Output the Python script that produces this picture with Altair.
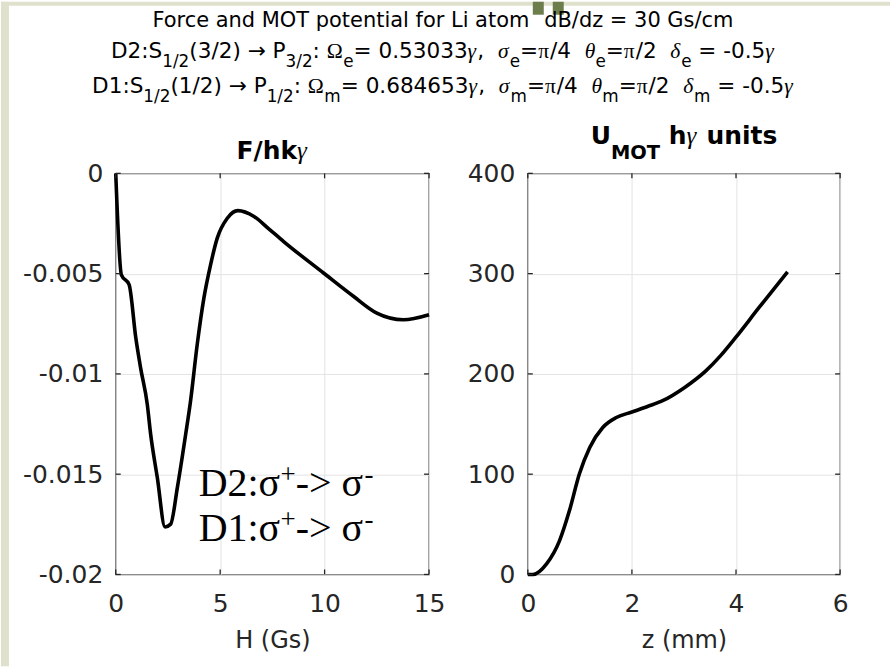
import altair as alt
import pandas as pd

# Force on a Li atom versus magnetic field H (Gs)
field_gs = [0, 0.27, 0.64, 0.96, 1.19, 1.51, 1.67, 1.99, 2.36, 2.63, 2.95, 3.35, 3.58,
            3.90, 4.22, 4.54, 4.86, 5.34, 5.85, 6.62, 7.30, 8.04, 9.95, 11.38, 12.5,
            13.77, 15]
force = [0, -0.00506, -0.00555, -0.0082, -0.0097, -0.01152, -0.0130, -0.01517,
         -0.01763, -0.01749, -0.01567, -0.0130, -0.01136, -0.00854, -0.00622,
         -0.00456, -0.00323, -0.00224, -0.00186, -0.00215, -0.00274, -0.0034,
         -0.00497, -0.00613, -0.00697, -0.0073, -0.00705]

# MOT potential versus position z (mm)
z_mm = [0, 0.1, 0.36, 0.61, 0.80, 0.99, 1.19, 1.44, 1.70, 2.0, 2.3, 2.6, 3.0, 3.42,
        3.7, 3.99, 4.44, 4.99]
u_mot = [0, 0, 10.6, 33.8, 63.7, 100.2, 126.7, 146.6, 156.5, 162.0, 167.5, 173.5,
         186.0, 203.0, 218.0, 236.1, 266.0, 301.8]

left_xticks = [0, 5, 10, 15]
left_yticks = [0, -0.005, -0.01, -0.015, -0.02]
right_xticks = [0, 2, 4, 6]
right_yticks = [0, 100, 200, 300, 400]

# polarisation labels: line prefix, anchor position in (H, F)
pol_prefix = ["D2:σ", "D1:σ"]
pol_h = [3.97, 3.97]
pol_f = [-0.01609, -0.01832]

SANS = "DejaVu Sans"
SERIF = "Liberation Serif, DejaVu Serif"
INK = "#262626"
GRID = "#e3e3e3"
SLIDE = "#e0e1cd"
SLIDE_DARK = "#6e7d4c"

W_L, W_R, H_P = 314, 313, 402
GAP = 99
LEFT_OFF = 115          # distance from page edge to the left plot frame
PAGE_W, PAGE_H = 891, 666
HEAD_W, HEAD_H = W_L + GAP + W_R, 165

# approximate advance widths (em) used to lay out mixed-font text runs
SANS_W = {' ': 0.318, '(': 0.390, ')': 0.390, ',': 0.318, '-': 0.361, '.': 0.318,
          '/': 0.337, ':': 0.337, '=': 0.838, '→': 0.838, 'B': 0.686, 'D': 0.770,
          'F': 0.575, 'G': 0.775, 'L': 0.557, 'M': 0.863, 'O': 0.787, 'P': 0.603,
          'S': 0.635, 'T': 0.611, 'a': 0.613, 'c': 0.550, 'd': 0.635, 'e': 0.615,
          'f': 0.352, 'h': 0.634, 'i': 0.278, 'l': 0.278, 'm': 0.974, 'n': 0.634,
          'o': 0.612, 'p': 0.635, 'r': 0.411, 's': 0.521, 't': 0.392, 'z': 0.525}
SANS_W.update({d: 0.636 for d in "0123456789"})
BOLD_W = {' ': 0.348, '/': 0.365, 'F': 0.683, 'h': 0.712, 'k': 0.665, 'U': 0.812,
          'M': 0.995, 'O': 0.850, 'T': 0.682, 'n': 0.712, 'i': 0.343, 't': 0.478,
          's': 0.595, 'u': 0.712}
SERIF_W = {'Ω': 0.768, 'π': 0.55, 'γ': 0.45, 'σ': 0.55, 'θ': 0.5, 'δ': 0.5,
           'D': 0.722, '1': 0.5, '2': 0.5, ':': 0.278, '+': 0.564, '-': 0.333,
           '>': 0.564, ' ': 0.25}
TABLES = {"sans": SANS_W, "bold": BOLD_W, "serif": SERIF_W, "serifi": SERIF_W}


def run_width(text, fkey, size):
    table = TABLES[fkey]
    return sum(table.get(c, 0.6) for c in text) * size


def lay_line(parts, base, center, size, sub_scale, sub_drop):
    pieces = []
    for part in parts:
        text, fkey = part[0], part[1]
        is_sub = len(part) > 2
        s = size * sub_scale if is_sub else size
        pieces.append((text, fkey, s, base + (sub_drop if is_sub else 0),
                       run_width(text, fkey, s)))
    x = center - sum(p[4] for p in pieces) / 2
    rows = []
    for text, fkey, s, y, w in pieces:
        body = text.lstrip(" ")
        lead = run_width(text[:len(text) - len(body)], fkey, s)
        if body.strip():
            rows.append({"t": body.rstrip(" "), "f": fkey, "s": s, "x": x + lead, "y": y})
        x += w
    return rows


SUB = True
line1 = [("Force and MOT potential for Li atom  ", "sans"), ("dB/dz = 30 Gs/cm", "sans")]
line2 = [("D2:S", "sans"), ("1/2", "sans", SUB), ("(3/2) ", "sans"), ("→", "sans"),
         (" P", "sans"), ("3/2", "sans", SUB), (": ", "sans"), ("Ω", "serif"),
         ("e", "sans", SUB), ("= 0.53033", "sans"), ("γ", "serifi"), (",  ", "sans"),
         ("σ", "serifi"), ("e", "sans", SUB), ("=", "sans"), ("π", "serif"),
         ("/4  ", "sans"), ("θ", "serifi"), ("e", "sans", SUB), ("=", "sans"),
         ("π", "serif"), ("/2  ", "sans"), ("δ", "serifi"), ("e", "sans", SUB),
         (" = -0.5", "sans"), ("γ", "serifi")]
line3 = [("D1:S", "sans"), ("1/2", "sans", SUB), ("(1/2) ", "sans"), ("→", "sans"),
         (" P", "sans"), ("1/2", "sans", SUB), (": ", "sans"), ("Ω", "serif"),
         ("m", "sans", SUB), ("= 0.684653", "sans"), ("γ", "serifi"), (",  ", "sans"),
         ("σ", "serifi"), ("m", "sans", SUB), ("=", "sans"), ("π", "serif"),
         ("/4  ", "sans"), ("θ", "serifi"), ("m", "sans", SUB), ("=", "sans"),
         ("π", "serif"), ("/2  ", "sans"), ("δ", "serifi"), ("m", "sans", SUB),
         (" = -0.5", "sans"), ("γ", "serifi")]
title_f = [("F/hk", "bold"), ("γ", "serifi")]
title_u = [("U", "bold"), ("MOT", "bold", SUB), (" h", "bold"), ("γ", "serifi"),
           (" units", "bold")]

HEAD_CX = 328
rows = []
rows += lay_line(line1, 25, HEAD_CX, 21, 0.8, 9)
rows += lay_line(line2, 56, HEAD_CX, 21.6, 0.78, 9)
rows += lay_line(line3, 91, HEAD_CX, 21.6, 0.78, 9)
rows += lay_line(title_f, 158, W_L / 2, 25, 0.78, 15)
rows += lay_line(title_u, 143, W_L + GAP + W_R / 2, 25, 0.78, 15)
head_df = pd.DataFrame(rows)

head_base = alt.Chart(head_df).encode(
    x=alt.X("x:Q", scale=None),
    y=alt.Y("y:Q", scale=None),
    text="t:N",
    size=alt.Size("s:Q", scale=None, legend=None),
)
head_layers = []
for fkey, font, extra in [("sans", SANS, {}), ("bold", SANS, {"fontWeight": "bold"}),
                          ("serif", SERIF, {}), ("serifi", SERIF, {"fontStyle": "italic"})]:
    head_layers.append(
        head_base.transform_filter(alt.datum.f == fkey).mark_text(
            align="left", baseline="alphabetic", font=font, color="black", **extra))

# slide backdrop: pale strips along the left and top edges, two dark tabs at the top
strip_src = alt.Chart(pd.DataFrame({"k": [0]}))
backdrop = [
    strip_src.mark_rect(color=SLIDE).encode(
        x=alt.value(-LEFT_OFF), x2=alt.value(-LEFT_OFF + 8),
        y=alt.value(0), y2=alt.value(PAGE_H)),
    strip_src.mark_rect(color=SLIDE).encode(
        x=alt.value(-LEFT_OFF), x2=alt.value(PAGE_W - LEFT_OFF),
        y=alt.value(0), y2=alt.value(4)),
    strip_src.mark_rect(color=SLIDE_DARK).encode(
        x=alt.value(533 - LEFT_OFF), x2=alt.value(544 - LEFT_OFF),
        y=alt.value(0), y2=alt.value(13)),
    strip_src.mark_rect(color=SLIDE_DARK).encode(
        x=alt.value(553 - LEFT_OFF), x2=alt.value(564 - LEFT_OFF),
        y=alt.value(0), y2=alt.value(13)),
]
header = alt.layer(*backdrop, *head_layers).properties(
    width=HEAD_W, height=HEAD_H, view=alt.ViewBackground(stroke="transparent"))


def inner_ticks(xfield, yfield, xs, ys, xt, yt, w, h):
    xdf = pd.DataFrame({xfield: xt})
    ydf = pd.DataFrame({yfield: yt})
    enc_x = alt.X(f"{xfield}:Q", scale=xs)
    enc_y = alt.Y(f"{yfield}:Q", scale=ys)
    rule = dict(color=INK, strokeWidth=1.3)
    return [
        alt.Chart(xdf).mark_rule(**rule).encode(x=enc_x, y=alt.value(h), y2=alt.value(h - 5)),
        alt.Chart(xdf).mark_rule(**rule).encode(x=enc_x, y=alt.value(0), y2=alt.value(5)),
        alt.Chart(ydf).mark_rule(**rule).encode(y=enc_y, x=alt.value(0), x2=alt.value(5)),
        alt.Chart(ydf).mark_rule(**rule).encode(y=enc_y, x=alt.value(w), x2=alt.value(w - 5)),
    ]


# left panel: force
xs_l = alt.Scale(domain=[0, 15], nice=False, zero=False)
ys_l = alt.Scale(domain=[-0.02, 0], nice=False)
force_line = alt.Chart(pd.DataFrame({"H": field_gs, "F": force})).mark_line(
    color="black", strokeWidth=3.6, interpolate="monotone").encode(
    x=alt.X("H:Q", scale=xs_l, axis=alt.Axis(values=left_xticks, title="H (Gs)")),
    y=alt.Y("F:Q", scale=ys_l, axis=alt.Axis(values=left_yticks, title=None)),
)

# "D2:σ⁺-> σ⁻" built from runs so the superscripts sit like the printed label
POL_SIZE, SUP_SIZE, SUP_RISE = 40, 27, -13
run1_w = run_width("D2:σ", "serif", POL_SIZE)
run2_w = run_width("+", "serif", SUP_SIZE)
run3_w = run_width("-> σ", "serif", POL_SIZE)
pol_df = pd.DataFrame({"H": pol_h, "F": pol_f, "pre": pol_prefix})
pol_enc = dict(x=alt.X("H:Q", scale=xs_l), y=alt.Y("F:Q", scale=ys_l))
pol_mark = dict(font=SERIF, align="left", baseline="alphabetic", color="black")
pol_layers = [
    alt.Chart(pol_df).mark_text(fontSize=POL_SIZE, **pol_mark).encode(text="pre:N", **pol_enc),
    alt.Chart(pol_df).mark_text(fontSize=SUP_SIZE, dx=run1_w, dy=SUP_RISE, **pol_mark).encode(
        text=alt.value("+"), **pol_enc),
    alt.Chart(pol_df).mark_text(fontSize=POL_SIZE, dx=run1_w + run2_w, **pol_mark).encode(
        text=alt.value("-> σ"), **pol_enc),
    alt.Chart(pol_df).mark_text(fontSize=SUP_SIZE, dx=run1_w + run2_w + run3_w + 1,
                                dy=SUP_RISE, **pol_mark).encode(
        text=alt.value("-"), **pol_enc),
]
left = alt.layer(force_line, *pol_layers,
                 *inner_ticks("H", "F", xs_l, ys_l, left_xticks, left_yticks, W_L, H_P)
                 ).properties(width=W_L, height=H_P)

# right panel: MOT potential
xs_r = alt.Scale(domain=[0, 6], nice=False, zero=False)
ys_r = alt.Scale(domain=[0, 400], nice=False)
pot_line = alt.Chart(pd.DataFrame({"z": z_mm, "U": u_mot})).mark_line(
    color="black", strokeWidth=3.6, interpolate="monotone").encode(
    x=alt.X("z:Q", scale=xs_r, axis=alt.Axis(values=right_xticks, title="z (mm)")),
    y=alt.Y("U:Q", scale=ys_r, axis=alt.Axis(values=right_yticks, title=None)),
)
right = alt.layer(pot_line,
                  *inner_ticks("z", "U", xs_r, ys_r, right_xticks, right_yticks, W_R, H_P)
                  ).properties(width=W_R, height=H_P)

panels = alt.hconcat(left, right, spacing=GAP, bounds="flush")
chart = alt.vconcat(header, panels, spacing=7, bounds="flush").properties(
    padding={"left": 0, "top": 0, "right": 0, "bottom": 0},
    background="white",
).configure_view(
    stroke=INK, strokeWidth=1.3
).configure_axis(
    labelFont=SANS, labelFontSize=25, labelColor=INK,
    titleFont=SANS, titleFontSize=24, titleFontWeight="normal", titleColor=INK,
    ticks=False, tickSize=0, domain=False, grid=True, gridColor=GRID, gridWidth=1,
    labelFlush=False, labelExpr="toString(datum.value)",
).configure_axisX(
    labelPadding=17, titlePadding=12
).configure_axisY(
    labelPadding=13
)

chart.save("out.html", embed_options={"renderer": "svg", "actions": False})
